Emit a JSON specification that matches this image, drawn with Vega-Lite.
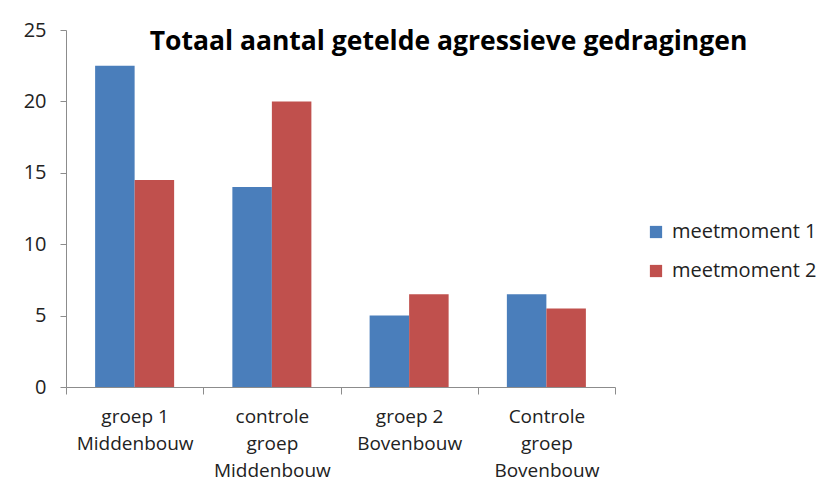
{
  "$schema": "https://vega.github.io/schema/vega-lite/v6.json",
  "autosize": {"type": "none"},
  "width": 549,
  "height": 357,
  "padding": {"left": 66, "top": 30, "right": 213, "bottom": 110},
  "background": "white",
  "title": {
    "text": "Totaal aantal getelde agressieve gedragingen",
    "font": "Open Sans",
    "fontSize": 26.5,
    "fontWeight": "bold",
    "color": "#000000",
    "anchor": "middle",
    "dx": 108,
    "dy": 56,
    "baseline": "alphabetic",
    "offset": 0
  },
  "data": {
    "values": [
      {"groep": "groep 1|Middenbouw", "meting": "meetmoment 1", "aantal": 22.5},
      {"groep": "groep 1|Middenbouw", "meting": "meetmoment 2", "aantal": 14.5},
      {"groep": "controle|groep|Middenbouw", "meting": "meetmoment 1", "aantal": 14},
      {"groep": "controle|groep|Middenbouw", "meting": "meetmoment 2", "aantal": 20},
      {"groep": "groep 2|Bovenbouw", "meting": "meetmoment 1", "aantal": 5},
      {"groep": "groep 2|Bovenbouw", "meting": "meetmoment 2", "aantal": 6.5},
      {"groep": "Controle|groep|Bovenbouw", "meting": "meetmoment 1", "aantal": 6.5},
      {"groep": "Controle|groep|Bovenbouw", "meting": "meetmoment 2", "aantal": 5.5}
    ]
  },
  "mark": {"type": "bar"},
  "encoding": {
    "x": {
      "field": "groep",
      "type": "nominal",
      "sort": null,
      "scale": {"paddingInner": 0, "paddingOuter": 0},
      "axis": {
        "title": null,
        "labelAngle": 0,
        "labelExpr": "isValid(datum.value) ? split(datum.value, '|') : ''",
        "labelFont": "Open Sans",
        "labelFontSize": 19,
        "labelColor": "#222222",
        "labelLineHeight": 27,
        "labelPadding": 13,
        "labelBaseline": "top",
        "tickBand": "extent",
        "tickSize": 7,
        "tickColor": "#8c8c8c",
        "domainColor": "#8c8c8c",
        "labelLimit": 0
      }
    },
    "xOffset": {
      "field": "meting",
      "type": "nominal",
      "scale": {"paddingInner": 0, "paddingOuter": 0.737}
    },
    "y": {
      "field": "aantal",
      "type": "quantitative",
      "scale": {"domain": [0, 25]},
      "axis": {
        "title": null,
        "values": [0, 5, 10, 15, 20, 25],
        "grid": false,
        "labelFont": "Open Sans",
        "labelFontSize": 20,
        "labelColor": "#222222",
        "labelPadding": 14,
        "tickSize": 6,
        "tickColor": "#8c8c8c",
        "domainColor": "#8c8c8c"
      }
    },
    "color": {
      "field": "meting",
      "type": "nominal",
      "scale": {"domain": ["meetmoment 1", "meetmoment 2"], "range": ["#4a7ebb", "#c0504d"]},
      "legend": {
        "title": null,
        "orient": "none",
        "legendX": 580,
        "legendY": 192,
        "symbolType": "square",
        "symbolSize": 150,
        "symbolStrokeWidth": 0,
        "labelFont": "Open Sans",
        "labelFontSize": 20,
        "labelColor": "#222222",
        "rowPadding": 19,
        "labelOffset": 6
      }
    }
  },
  "config": {"view": {"stroke": null}}
}
